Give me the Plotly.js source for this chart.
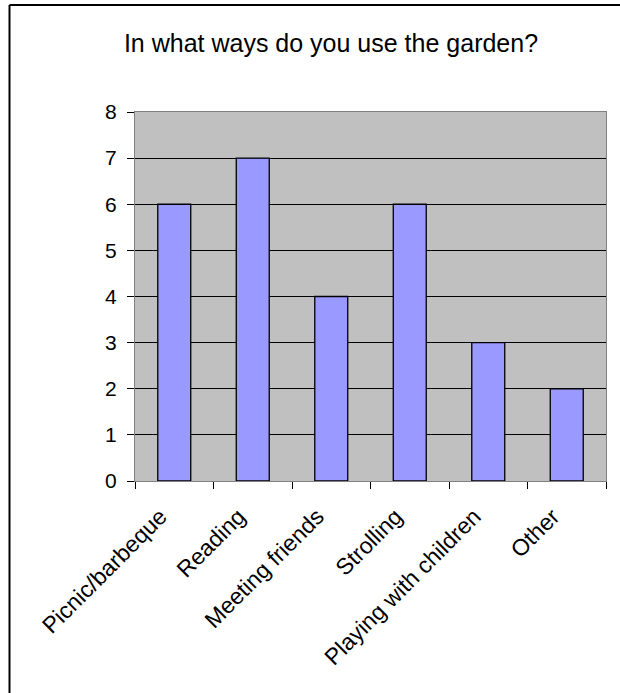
<!DOCTYPE html>
<html>
<head>
<meta charset="utf-8">
<script src="https://cdn.plot.ly/plotly-3.0.1.min.js"></script>
<style>html,body{margin:0;padding:0;background:#fff;}#chart{width:620px;height:693px;}</style>
</head>
<body>
<div id="chart"></div>
<script>
const categories = ["Picnic/barbeque", "Reading", "Meeting friends", "Strolling", "Playing with children", "Other"];
const counts = [6, 7, 4, 6, 3, 2];
const yTicks = [0, 1, 2, 3, 4, 5, 6, 7, 8];
const chartTitle = "In what ways do you use the garden?";

const W = 620, H = 693;
const L = 135, R = 14, T = 112, B = 212;
const pw = W - L - R, ph = H - T - B;
const px = x => (x - L) / pw;
const py = y => (H - B - y) / ph;

const font = "Liberation Sans, Arial, sans-serif";

const data = [{
  type: "bar",
  x: categories,
  y: counts,
  marker: { color: "#9999ff", line: { color: "#000000", width: 1.3 } },
  width: 0.42,
  hoverinfo: "x+y"
}];

const layout = {
  width: W, height: H,
  margin: { l: L, r: R, t: T, b: B, pad: 0 },
  paper_bgcolor: "#ffffff",
  plot_bgcolor: "#c0c0c0",
  showlegend: false,
  font: { family: font, color: "#000000" },
  title: {
    text: chartTitle,
    font: { family: font, size: 25, color: "#000000" },
    x: 331 / W, xref: "container", xanchor: "center",
    y: 1 - 43 / H, yref: "container", yanchor: "middle"
  },
  xaxis: {
    type: "category",
    tickangle: -45,
    tickson: "boundaries",
    ticks: "outside",
    ticklen: 7,
    tickcolor: "#000000",
    ticklabelstandoff: 12,
    ticklabelshift: -14,
    tickfont: { family: font, size: 23, color: "#000000" },
    showline: true, linecolor: "#808080", linewidth: 1, mirror: true,
    showgrid: false,
    fixedrange: true
  },
  yaxis: {
    range: [0, 8],
    tickvals: yTicks,
    ticktext: yTicks.map(String),
    ticks: "outside",
    ticklen: 7,
    tickcolor: "#000000",
    ticklabelstandoff: 6,
    tickfont: { family: font, size: 21, color: "#000000" },
    showgrid: true, gridcolor: "#000000", gridwidth: 1,
    zeroline: true, zerolinecolor: "#000000", zerolinewidth: 1,
    showline: true, linecolor: "#808080", linewidth: 1, mirror: true,
    fixedrange: true
  },
  shapes: [
    { type: "line", xref: "paper", yref: "paper",
      x0: px(9.5), x1: px(625), y0: py(5), y1: py(5),
      line: { color: "#000000", width: 2 } },
    { type: "line", xref: "paper", yref: "paper",
      x0: px(9.5), x1: px(9.5), y0: py(5), y1: py(700),
      line: { color: "#000000", width: 2 } }
  ]
};

Plotly.newPlot("chart", data, layout, { displayModeBar: false, staticPlot: true });
</script>
</body>
</html>
